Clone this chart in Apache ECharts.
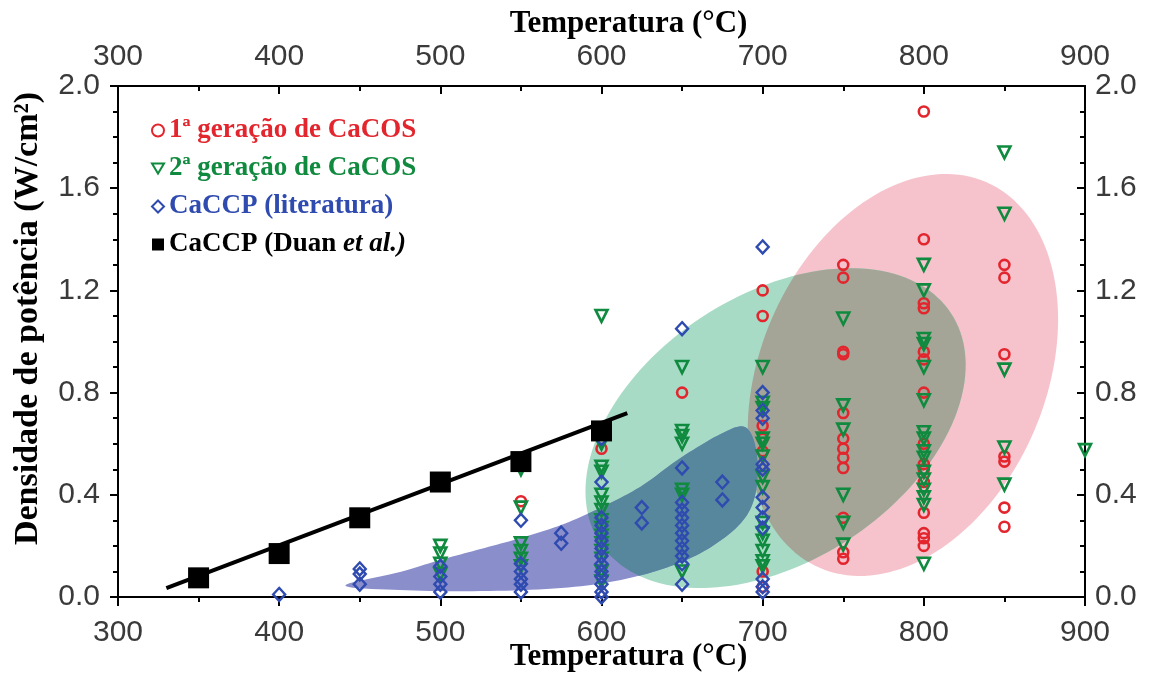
<!DOCTYPE html>
<html>
<head>
<meta charset="utf-8">
<script src="https://cdn.jsdelivr.net/npm/echarts@6/dist/echarts.min.js"></script>
<style>
html,body{margin:0;padding:0;background:#fff;}
#chart{width:1151px;height:678px;}
</style>
</head>
<body>
<div id="chart"></div>
<script>
// ---------------- DATA ----------------
const seriesNames = ['1ª geração de CaCOS', '2ª geração de CaCOS', 'CaCCP (literatura)', 'CaCCP (Duan et al.)'];

// [temperature °C, power density W/cm²]
const gen1Points = [
  [550,0.375],[600,0.58],[650,0.80],
  [700,1.20],[700,1.10],[700,0.67],[700,0.62],[700,0.57],[700,0.10],[700,0.04],
  [750,1.30],[750,1.25],[750,0.96],[750,0.95],[750,0.72],[750,0.62],[750,0.58],[750,0.545],[750,0.505],[750,0.31],[750,0.175],[750,0.15],
  [800,1.90],[800,1.40],[800,1.15],[800,1.13],[800,0.96],[800,0.93],[800,0.80],[800,0.60],[800,0.52],[800,0.50],[800,0.45],[800,0.33],[800,0.25],[800,0.23],[800,0.20],
  [850,1.30],[850,1.25],[850,0.95],[850,0.55],[850,0.53],[850,0.35],[850,0.275]
];
const gen2Points = [
  [500,0.20],[500,0.17],[500,0.13],[500,0.09],
  [550,0.50],[550,0.35],[550,0.21],[550,0.18],[550,0.15],[550,0.12],
  [600,1.10],[600,0.60],[600,0.51],[600,0.49],[600,0.40],[600,0.37],[600,0.34],[600,0.30],[600,0.27],[600,0.24],[600,0.21],[600,0.18],[600,0.15],[600,0.10],[600,0.06],
  [650,0.90],[650,0.65],[650,0.63],[650,0.60],[650,0.42],[650,0.40],[650,0.10],
  [700,0.90],[700,0.76],[700,0.74],[700,0.62],[700,0.60],[700,0.55],[700,0.47],[700,0.43],[700,0.29],[700,0.25],[700,0.22],[700,0.18],[700,0.14],[700,0.12],
  [750,1.09],[750,0.75],[750,0.655],[750,0.40],[750,0.29],[750,0.205],
  [800,1.30],[800,1.20],[800,1.01],[800,0.99],[800,0.90],[800,0.77],[800,0.645],[800,0.62],[800,0.57],[800,0.545],[800,0.49],[800,0.46],[800,0.42],[800,0.39],[800,0.36],[800,0.13],
  [850,1.74],[850,1.50],[850,0.89],[850,0.585],[850,0.44],
  [900,0.575]
];
const literaturePoints = [
  [400,0.01],
  [450,0.11],[450,0.09],[450,0.05],
  [500,0.12],[500,0.08],[500,0.05],[500,0.02],
  [550,0.30],[550,0.13],[550,0.10],[550,0.07],[550,0.05],[550,0.02],
  [575,0.25],[575,0.21],
  [600,0.62],[600,0.45],[600,0.31],[600,0.28],[600,0.25],[600,0.22],[600,0.19],[600,0.16],[600,0.13],[600,0.10],[600,0.08],[600,0.05],[600,0.02],[600,0.0],
  [625,0.35],[625,0.29],
  [650,1.05],[650,0.505],[650,0.37],[650,0.34],[650,0.31],[650,0.28],[650,0.25],[650,0.22],[650,0.19],[650,0.16],[650,0.13],[650,0.05],
  [675,0.45],[675,0.38],
  [700,1.37],[700,0.80],[700,0.73],[700,0.70],[700,0.52],[700,0.50],[700,0.39],[700,0.35],[700,0.31],[700,0.27],[700,0.07],[700,0.04],[700,0.02]
];
const duanPoints = [[350,0.075],[400,0.17],[450,0.31],[500,0.45],[550,0.53],[600,0.65]];
const duanFitLine = [[330,0.035],[616,0.72]];

// shaded regions, in data units: [centerT, centerP, u_T, u_P, v_T, v_P] (conjugate semi-diameters)
const regionGen1 = [787, 0.869, 51.6, 0.755, 81.3, -0.221];
const regionGen2 = [708, 0.661, 108.9, 0.449, 45.3, -0.436];
// outline of the literature region (data units)
const regionLiterature = [
  [441,0.045],[475,0.098],[500,0.145],[525,0.188],[550,0.231],[575,0.282],[599,0.348],
  [624,0.431],[649,0.544],[674,0.638],[689,0.665],[696,0.575],[696,0.419],[688,0.301],
  [668,0.196],[643,0.121],[612,0.067],[575,0.035],[525,0.023],[475,0.027]
];

const xTicks = [300, 900, 100];
const yTicks = [0, 2.0, 0.4];

// ---------------- STYLE ----------------
const RED = '#e3262e', GREEN = '#0f8a3e', BLUE = '#2f4bb0', BLACK = '#000';
const FILL_PINK = '#f6c3cd', FILL_GREEN = '#a7dbc6', FILL_GRAY = '#a4a597', FILL_BLUE = '#8a8ecb', FILL_TEAL = '#56879c';
const serif = "'Liberation Serif', 'Times New Roman', serif";
const sans = "'Liberation Sans', Arial, sans-serif";

// ---------------- GEOMETRY HELPERS ----------------
function ellipsePixels(p, api) {
  const pts = [];
  const N = 160;
  for (let i = 0; i < N; i++) {
    const t = 2 * Math.PI * i / N;
    pts.push(api.coord([p[0] + p[2] * Math.cos(t) + p[4] * Math.sin(t),
                        p[1] + p[3] * Math.cos(t) + p[5] * Math.sin(t)]));
  }
  return pts;
}
function closedSpline(pts, seg) {
  const out = [], n = pts.length;
  for (let i = 0; i < n; i++) {
    const p0 = pts[(i - 1 + n) % n], p1 = pts[i], p2 = pts[(i + 1) % n], p3 = pts[(i + 2) % n];
    for (let k = 0; k < seg; k++) {
      const t = k / seg, t2 = t * t, t3 = t2 * t;
      const f = (a, b, c, d) => 0.5 * ((2 * b) + (-a + c) * t + (2 * a - 5 * b + 4 * c - d) * t2 + (-a + 3 * b - 3 * c + d) * t3);
      out.push([f(p0[0], p1[0], p2[0], p3[0]), f(p0[1], p1[1], p2[1], p3[1])]);
    }
  }
  return out;
}
function signedArea(poly) {
  let s = 0;
  for (let i = 0; i < poly.length; i++) {
    const a = poly[i], b = poly[(i + 1) % poly.length];
    s += a[0] * b[1] - b[0] * a[1];
  }
  return s / 2;
}
// Sutherland-Hodgman clipping by a convex polygon
function clipConvex(subject, clip) {
  const orient = signedArea(clip) > 0 ? 1 : -1;
  let output = subject;
  for (let i = 0; i < clip.length; i++) {
    const A = clip[i], B = clip[(i + 1) % clip.length];
    const inside = p => orient * ((B[0] - A[0]) * (p[1] - A[1]) - (B[1] - A[1]) * (p[0] - A[0])) >= 0;
    const inter = (P, Q) => {
      const a1 = B[1] - A[1], b1 = A[0] - B[0], c1 = a1 * A[0] + b1 * A[1];
      const a2 = Q[1] - P[1], b2 = P[0] - Q[0], c2 = a2 * P[0] + b2 * P[1];
      const det = a1 * b2 - a2 * b1;
      if (Math.abs(det) < 1e-12) return P;
      return [(b2 * c1 - b1 * c2) / det, (a1 * c2 - a2 * c1) / det];
    };
    const input = output;
    output = [];
    if (!input.length) break;
    for (let j = 0; j < input.length; j++) {
      const P = input[j], Q = input[(j + 1) % input.length];
      const pin = inside(P), qin = inside(Q);
      if (pin) {
        output.push(P);
        if (!qin) output.push(inter(P, Q));
      } else if (qin) {
        output.push(inter(P, Q));
      }
    }
  }
  return output;
}

function renderRegions(params, api) {
  const pink = ellipsePixels(regionGen1, api);
  const green = ellipsePixels(regionGen2, api);
  const blue = closedSpline(regionLiterature.map(d => api.coord(d)), 10);
  const gray = clipConvex(green, pink);
  const teal = clipConvex(blue, green);
  const poly = (pts, fill) => ({ type: 'polygon', shape: { points: pts }, style: { fill: fill } });
  const children = [poly(pink, FILL_PINK), poly(green, FILL_GREEN)];
  if (gray.length > 2) children.push(poly(gray, FILL_GRAY));
  children.push(poly(blue, FILL_BLUE));
  if (teal.length > 2) children.push(poly(teal, FILL_TEAL));
  return { type: 'group', children: children };
}

const axisCommonX = {
  type: 'value', min: xTicks[0], max: xTicks[1], interval: xTicks[2],
  axisLine: { show: true, onZero: false, lineStyle: { color: '#000', width: 2 } },
  splitLine: { show: false },
  minorTick: { show: true, splitNumber: 2, length: 5, lineStyle: { color: '#000', width: 2 } },
  axisLabel: { fontFamily: sans, fontSize: 30, color: '#3a3a3a' },
  nameLocation: 'middle', nameMoveOverlap: false,
  nameTextStyle: { fontFamily: serif, fontWeight: 'bold', fontSize: 31, color: '#000', padding: [0, 0, 0, 54] }
};
const axisCommonY = {
  type: 'value', min: yTicks[0], max: yTicks[1], interval: yTicks[2],
  axisLine: { show: true, onZero: false, lineStyle: { color: '#000', width: 2 } },
  splitLine: { show: false }, nameMoveOverlap: false,
  minorTick: { show: true, splitNumber: 4, length: 5, lineStyle: { color: '#000', width: 2 } },
  axisLabel: { fontFamily: sans, fontSize: 30, color: '#3a3a3a', formatter: v => v.toFixed(1) }
};

const option = {
  backgroundColor: '#fff',
  animation: false,
  grid: { left: 118, right: 66, top: 86, bottom: 81, outerBoundsMode: 'none', containLabel: false },
  legend: {
    left: 146, top: 112, orient: 'vertical', itemGap: 11, itemWidth: 12, itemHeight: 12,
    data: [
      { name: seriesNames[0], textStyle: { color: RED } },
      { name: seriesNames[1], textStyle: { color: GREEN }, icon: 'path://M0,0L12,0L6,10Z' },
      { name: seriesNames[2], textStyle: { color: BLUE } },
      { name: seriesNames[3], textStyle: { color: BLACK } }
    ],
    formatter: n => n === seriesNames[3] ? '{n|CaCCP (Duan }{i|et al.)}' : n,
    textStyle: {
      fontFamily: serif, fontWeight: 'bold', fontSize: 27, lineHeight: 27,
      rich: {
        n: { fontFamily: serif, fontWeight: 'bold', fontSize: 27, color: '#000' },
        i: { fontFamily: serif, fontWeight: 'bold', fontStyle: 'italic', fontSize: 27, color: '#000' }
      }
    }
  },
  xAxis: [
    Object.assign({}, axisCommonX, {
      position: 'bottom', name: 'Temperatura (°C)', nameGap: 44,
      axisTick: { show: true, length: 9, lineStyle: { color: '#000', width: 2 } },
      axisLabel: Object.assign({}, axisCommonX.axisLabel, { margin: 21 })
    }),
    Object.assign({}, axisCommonX, {
      position: 'top', name: 'Temperatura (°C)', nameGap: 47,
      axisTick: { show: true, inside: true, length: 8, lineStyle: { color: '#000', width: 2 } },
      axisLabel: Object.assign({}, axisCommonX.axisLabel, { margin: 14 })
    })
  ],
  yAxis: [
    Object.assign({}, axisCommonY, {
      position: 'left', name: 'Densidade de potência (W/cm²)', nameLocation: 'middle', nameGap: 73,
      nameTextStyle: { fontFamily: serif, fontWeight: 'bold', fontSize: 34, color: '#000', padding: [0, 0, 0, 46] },
      axisTick: { show: true, length: 8, lineStyle: { color: '#000', width: 2 } },
      axisLabel: Object.assign({}, axisCommonY.axisLabel, { margin: 18 })
    }),
    Object.assign({}, axisCommonY, {
      position: 'right',
      axisTick: { show: true, inside: true, length: 8, lineStyle: { color: '#000', width: 2 } },
      axisLabel: Object.assign({}, axisCommonY.axisLabel, { margin: 10 })
    })
  ],
  series: [
    { type: 'custom', data: [0], renderItem: renderRegions, z: 1, silent: true },
    {
      name: seriesNames[0], type: 'scatter', data: gen1Points, symbol: 'circle', symbolSize: 10,
      itemStyle: { color: 'rgba(255,255,255,0)', borderColor: RED, borderWidth: 2.6, opacity: 1 }, z: 3
    },
    {
      name: seriesNames[1], type: 'scatter', data: gen2Points, symbol: 'triangle', symbolRotate: 180, symbolSize: 12,
      itemStyle: { color: 'rgba(255,255,255,0)', borderColor: GREEN, borderWidth: 2.6, opacity: 1 }, z: 3
    },
    {
      name: seriesNames[2], type: 'scatter', data: literaturePoints, symbol: 'diamond', symbolSize: [12, 13],
      itemStyle: { color: 'rgba(255,255,255,0)', borderColor: BLUE, borderWidth: 2.4, opacity: 1 }, z: 3
    },
    {
      type: 'line', data: duanFitLine, symbol: 'none', lineStyle: { color: '#000', width: 4 }, z: 3, silent: true
    },
    {
      name: seriesNames[3], type: 'scatter', data: duanPoints, symbol: 'rect', symbolSize: 21,
      itemStyle: { color: '#000', opacity: 1 }, z: 4
    }
  ]
};

const chart = echarts.init(document.getElementById('chart'), null, { renderer: 'canvas' });
chart.setOption(option);
</script>
</body>
</html>
